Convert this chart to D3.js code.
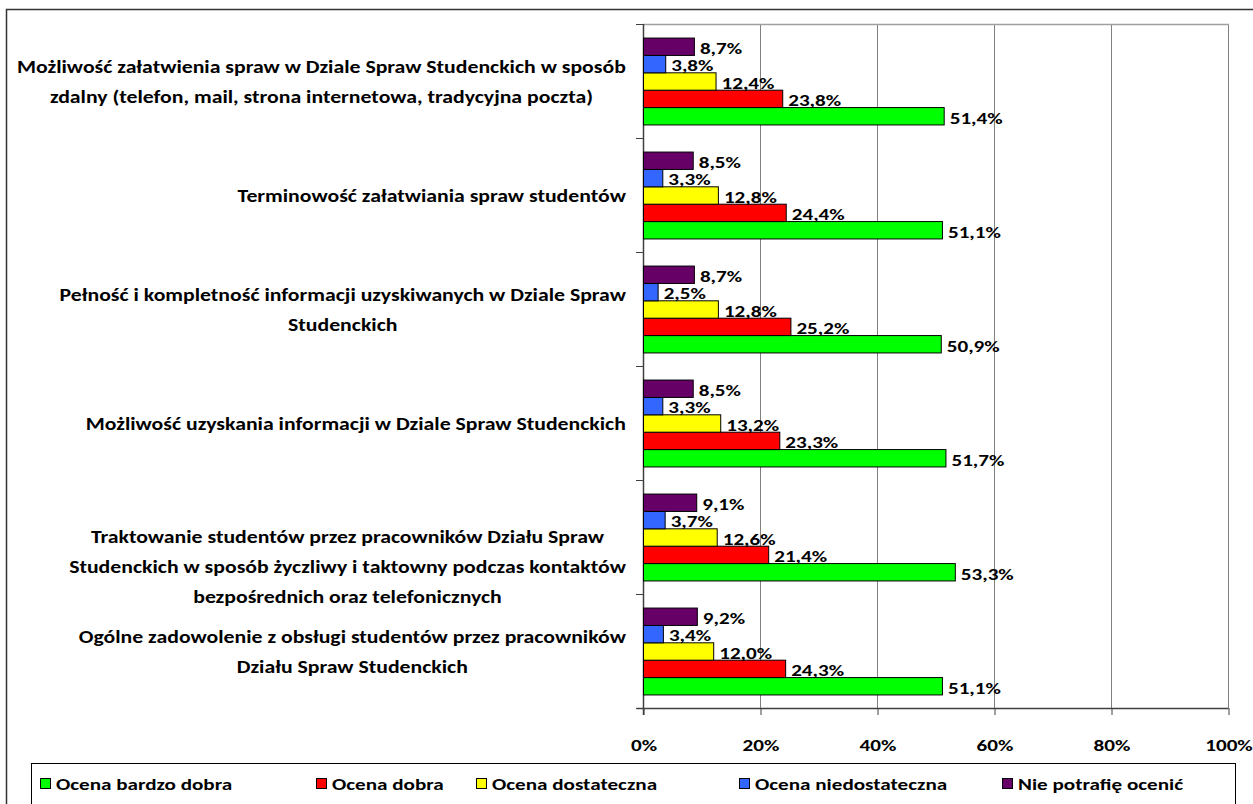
<!DOCTYPE html>
<html>
<head>
<meta charset="utf-8">
<script src="https://cdn.jsdelivr.net/npm/d3@7"></script>
<style>
  body { margin: 0; background: #fff; }
  svg { display: block; }
  text { font-family: Carlito, Calibri, Lato, "Open Sans", sans-serif; font-weight: bold; fill: #000; }
</style>
</head>
<body>
<svg id="chart" width="1253" height="804"></svg>
<script>
// ---- Data ----
const categories = [
  ["Możliwość załatwienia spraw w Dziale Spraw Studenckich w sposób", "zdalny (telefon, mail, strona internetowa, tradycyjna poczta)"],
  ["Terminowość załatwiania spraw studentów"],
  ["Pełność i kompletność informacji uzyskiwanych w Dziale Spraw", "Studenckich"],
  ["Możliwość uzyskania informacji w Dziale Spraw Studenckich"],
  ["Traktowanie studentów przez pracowników Działu Spraw", "Studenckich w sposób życzliwy i taktowny podczas kontaktów", "bezpośrednich oraz telefonicznych"],
  ["Ogólne zadowolenie z obsługi studentów przez pracowników", "Działu Spraw Studenckich"]
];
const seriesNames = ["Ocena bardzo dobra", "Ocena dobra", "Ocena dostateczna", "Ocena niedostateczna", "Nie potrafię ocenić"];
const seriesColors = ["#00FF00", "#FF0000", "#FFFF00", "#3366FF", "#660066"];
const bardzoDobra   = [51.4, 51.1, 50.9, 51.7, 53.3, 51.1];
const dobra         = [23.8, 24.4, 25.2, 23.3, 21.4, 24.3];
const dostateczna   = [12.4, 12.8, 12.8, 13.2, 12.6, 12.0];
const niedostateczna= [3.8, 3.3, 2.5, 3.3, 3.7, 3.4];
const niePotrafie   = [8.7, 8.5, 8.7, 8.5, 9.1, 9.2];
const seriesValues = [bardzoDobra, dobra, dostateczna, niedostateczna, niePotrafie];
const xTicks = [0, 20, 40, 60, 80, 100];

// ---- Layout ----
const SX = 1.28; // horizontal text stretch to match the reference glyph widths
const svg = d3.select("#chart");
const plot = { left: 643, right: 1228, top: 24, bottom: 708 };

function place(sel, fx, fy) {
  sel.attr("x", 0).attr("y", 0)
     .attr("transform", (d, i, n) => `translate(${fx(d, i, n)},${fy(d, i, n)}) scale(${SX},1)`);
}

const x = d3.scaleLinear().domain([0, 100]).range([plot.left, plot.right]);
const y = d3.scaleBand().domain(d3.range(categories.length)).range([plot.top, plot.bottom]).paddingInner(0).paddingOuter(0);
// series drawn top-to-bottom in reverse order
const seriesOrder = [4, 3, 2, 1, 0];
const ySub = d3.scaleBand().domain(seriesOrder).range([0, y.bandwidth()]).paddingOuter(0.78).paddingInner(0);

// outer frame (top and left edges visible)
svg.append("path")
  .attr("d", "M6.5,804 V9.5 H1253")
  .attr("fill", "none").attr("stroke", "#333").attr("stroke-width", 1.5);

// gridlines
svg.append("g").selectAll("line").data(xTicks.filter(t => t > 0)).join("line")
  .attr("x1", d => x(d) + 0.5).attr("x2", d => x(d) + 0.5)
  .attr("y1", plot.top).attr("y2", plot.bottom)
  .attr("stroke", "#808080").attr("stroke-width", 1);
// plot top border
svg.append("line").attr("x1", plot.left).attr("x2", plot.right + 1)
  .attr("y1", plot.top + 0.5).attr("y2", plot.top + 0.5)
  .attr("stroke", "#a0a0a0").attr("stroke-width", 1.5);

// bottom axis
const xAxis = d3.axisBottom(x).tickValues(xTicks).tickSize(7).tickFormat(d => d + "%");
const gx = svg.append("g").attr("transform", `translate(0.5,${plot.bottom})`).call(xAxis);
gx.select(".domain").attr("stroke", "#404040").attr("stroke-width", 1.5).attr("d", `M${plot.left - 7},0.5H${plot.right}`);
gx.selectAll(".tick line").attr("stroke", "#404040");
gx.selectAll(".tick text")
  .attr("dy", "0.35em").style("font-size", "16.5px").style("font-weight", "bold")
  .style("font-family", "Carlito, Calibri, Lato, sans-serif").attr("fill", "#000")
  .call(place, () => 0, () => 37);

// left axis (band boundaries ticks)
const boundaries = d3.range(categories.length + 1).map(i => plot.top + i * y.bandwidth());
svg.append("line").attr("x1", plot.left + 0.5).attr("x2", plot.left + 0.5)
  .attr("y1", plot.top).attr("y2", plot.bottom + 7)
  .attr("stroke", "#404040").attr("stroke-width", 1.5);
svg.append("g").selectAll("line").data(boundaries).join("line")
  .attr("x1", plot.left - 7).attr("x2", plot.left)
  .attr("y1", d => d + 0.5).attr("y2", d => d + 0.5)
  .attr("stroke", "#404040").attr("stroke-width", 1);

// bars
const barData = [];
categories.forEach((c, ci) => {
  seriesValues.forEach((vals, si) => {
    barData.push({ ci, si, v: vals[ci] });
  });
});
svg.append("g").selectAll("rect").data(barData).join("rect")
  .attr("x", plot.left + 0.5)
  .attr("y", d => y(d.ci) + ySub(d.si) + 0.5)
  .attr("width", d => x(d.v) - x(0))
  .attr("height", ySub.bandwidth())
  .attr("fill", d => seriesColors[d.si])
  .attr("stroke", "#000").attr("stroke-width", 1);

// data labels
svg.append("g").selectAll("text").data(barData).join("text")
  .attr("dy", "0.35em")
  .style("font-size", "16.5px")
  .text(d => d.v.toFixed(1).replace(".", ",") + "%")
  .call(place, d => x(d.v) + 6, d => y(d.ci) + ySub(d.si) + ySub.bandwidth() / 2 + 2);

// category labels
const labelRight = 626;
const lineH = 30;
categories.forEach((lines, ci) => {
  const n = lines.length;
  const cy = y(ci) + y.bandwidth() / 2;
  const startY = n === 3 ? cy : cy - (n - 1) * lineH / 2 + 1;
  const g = svg.append("g");
  const ts = g.selectAll("text").data(lines).join("text")
    .attr("dy", "0.35em")
    .attr("text-anchor", "middle")
    .style("font-size", "17px")
    .text(d => d);
  let maxW = 0;
  ts.each(function () { maxW = Math.max(maxW, this.getComputedTextLength() * SX); });
  ts.call(place, () => labelRight - maxW / 2, (d, i) => startY + i * lineH);
});

// legend
const legend = svg.append("g");
legend.append("rect").attr("x", 31.5).attr("y", 763.5).attr("width", 1204).attr("height", 60)
  .attr("fill", "#fff").attr("stroke", "#000").attr("stroke-width", 1);
const legendX = [40, 316, 476, 739, 1002];
seriesNames.forEach((name, i) => {
  legend.append("rect").attr("x", legendX[i] + 0.5).attr("y", 778.5).attr("width", 10).attr("height", 10)
    .attr("fill", seriesColors[i]).attr("stroke", "#000").attr("stroke-width", 1);
  legend.append("text").datum(name).attr("dy", "0.35em")
    .style("font-size", "16.5px").text(name)
    .call(place, () => legendX[i] + 16, () => 784);
});
</script>
</body>
</html>
